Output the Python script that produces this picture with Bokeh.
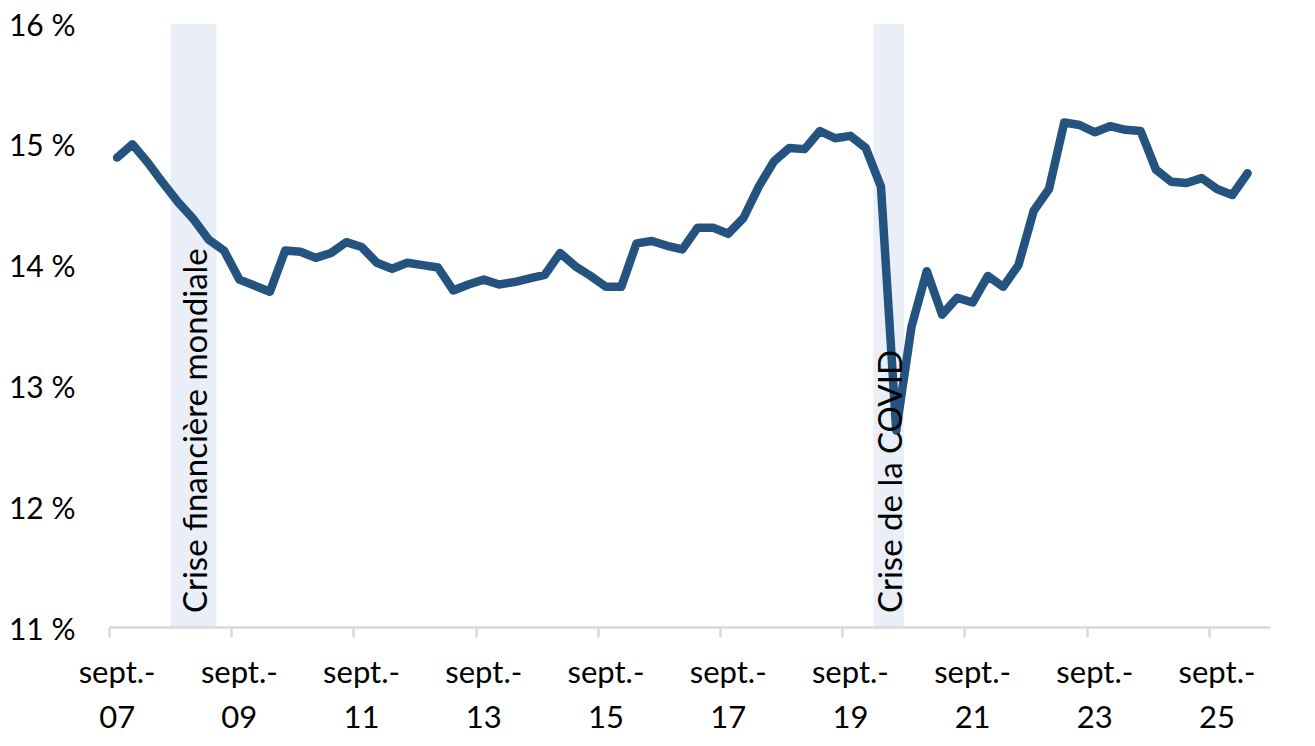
import math
from bokeh.plotting import figure
from bokeh.models import Range1d, FixedTicker, LinearAxis
from bokeh.core.properties import value
from bokeh.embed import file_html
from bokeh.resources import INLINE

# ---- data -------------------------------------------------------------
months = ["sept.", "déc.", "mars", "juin"]
quarters = [f"{months[i % 4]}-{(7 + (i + 2) // 4):02d}" for i in range(76)]

rate = [
    14.89, 15.00, 14.85, 14.68, 14.52, 14.38, 14.21, 14.12, 13.88, 13.83,
    13.78, 14.12, 14.11, 14.06, 14.10, 14.19, 14.15, 14.02, 13.97, 14.02,
    14.00, 13.98, 13.79, 13.84, 13.88, 13.84, 13.86, 13.89, 13.92, 14.10,
    13.99, 13.91, 13.82, 13.82, 14.18, 14.20, 14.16, 14.13, 14.31, 14.31,
    14.26, 14.39, 14.65, 14.86, 14.97, 14.96, 15.11, 15.05, 15.07, 14.97,
    14.65, 12.63, 13.49, 13.95, 13.59, 13.73, 13.69, 13.91, 13.82, 14.00,
    14.45, 14.63, 15.18, 15.16, 15.10, 15.15, 15.12, 15.11, 14.79, 14.69,
    14.68, 14.72, 14.63, 14.58, 14.76,
]

y_ticks = [11, 12, 13, 14, 15, 16]
y_labels = ["11 %", "12 %", "13 %", "14 %", "15 %", "16 %"]

x_label_cats = ["sept.-07", "sept.-09", "sept.-11", "sept.-13", "sept.-15",
                "sept.-17", "sept.-19", "sept.-21", "sept.-23", "sept.-25"]
x_labels = ["sept.-\n07", "sept.-\n09", "sept.-\n11", "sept.-\n13", "sept.-\n15",
            "sept.-\n17", "sept.-\n19", "sept.-\n21", "sept.-\n23", "sept.-\n25"]

crises = ["Crise financière mondiale", "Crise de la COVID"]
crisis_first = ["sept.-08", "mars-20"]
crisis_last = ["mars-09", "juin-20"]

# ---- figure -----------------------------------------------------------
FONT = "Lato"
p = figure(width=1315, height=746, output_backend="svg", toolbar_location=None,
           x_range=Range1d(-0.5, len(quarters) - 0.5), y_range=Range1d(11, 16),
           x_axis_location=None, y_axis_location="left",
           min_border_left=109, min_border_right=45,
           min_border_top=23, min_border_bottom=119)
p.grid.visible = False
p.outline_line_color = None
p.background_fill_color = "white"
p.border_fill_color = "white"

ya = p.yaxis[0]
ya.ticker = FixedTicker(ticks=y_ticks)
ya.major_label_overrides = {t: l for t, l in zip(y_ticks, y_labels)}
ya.axis_line_color = None
ya.major_tick_line_color = None
ya.minor_tick_line_color = None
ya.major_label_text_font = FONT
ya.major_label_text_font_size = "30px"
ya.major_label_text_color = "#000000"
ya.major_label_standoff = 28

tick_idx = [quarters.index(c) for c in x_label_cats]

ax1 = LinearAxis(ticker=FixedTicker(ticks=[i - 0.5 for i in tick_idx]),
                 axis_line_color="#D9D9D9", axis_line_width=2.5,
                 major_tick_line_color="#D9D9D9", major_tick_line_width=2.5,
                 major_tick_out=10, major_tick_in=0,
                 minor_tick_line_color=None,
                 major_label_text_font_size="0px", major_label_text_color=None,
                 major_label_standoff=0)
p.add_layout(ax1, "below")

ax2 = LinearAxis(ticker=FixedTicker(ticks=tick_idx),
                 major_label_overrides={i: l for i, l in zip(tick_idx, x_labels)},
                 axis_line_color=None, major_tick_line_color=None,
                 major_tick_out=0, major_tick_in=0,
                 minor_tick_line_color=None,
                 major_label_text_font=FONT, major_label_text_font_size="31px",
                 major_label_text_color="#000000", major_label_standoff=14)
p.add_layout(ax2, "below")

lefts = [quarters.index(s) - 0.5 for s in crisis_first]
rights = [quarters.index(e) + 0.5 for e in crisis_last]
p.quad(left=lefts, right=rights, bottom=[11] * len(crises), top=[16] * len(crises),
       fill_color="#E9EEF7", line_color=None)

p.line(x=list(range(len(rate))), y=rate, line_color="#245380", line_width=8.5,
       line_join="round", line_cap="round")

p.text(x=[(l + r) / 2 for l, r in zip(lefts, rights)], y=[11.12] * len(crises),
       text=crises, angle=math.pi / 2, text_align="left", text_baseline="middle",
       text_font=value(FONT), text_font_size="33px", text_color="#000000")

open("out.html", "w").write(file_html(p, INLINE))
